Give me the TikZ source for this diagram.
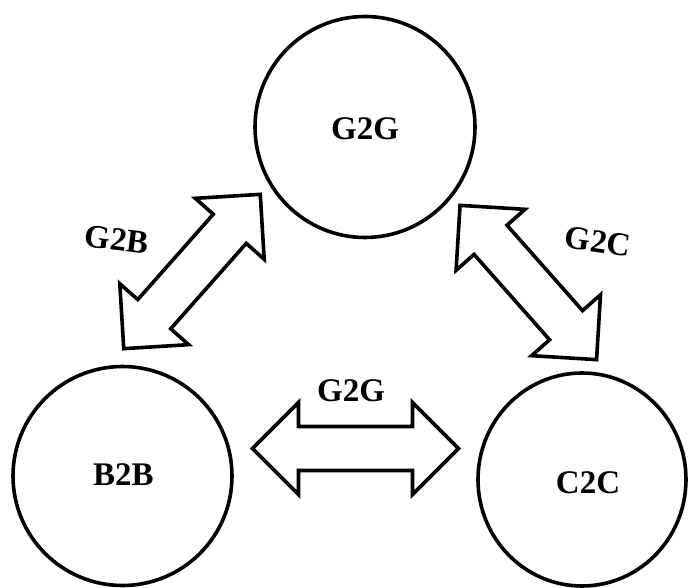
\documentclass[tikz,border=0pt]{standalone}
\usepackage{fontspec}
\setmainfont{Liberation Serif}
\usetikzlibrary{shapes.geometric}
\tikzset{
  ring/.style={draw=black, line width=3.6pt, ellipse, inner sep=0pt},
  lbl/.style={font=\bfseries\fontsize{33}{36}\selectfont, inner sep=0pt},
  arrowline/.style={draw=black, line width=3.6pt, line join=miter, fill=white},
  dblarr/.pic={
    \draw[arrowline] (-103,0) -- (-57,46) -- (-57,22) -- (57,22) -- (57,46)
      -- (103,0) -- (57,-46) -- (57,-22) -- (-57,-22) -- (-57,-46) -- cycle;
  }
}
\begin{document}
\begin{tikzpicture}[x=1pt, y=-1pt]
\useasboundingbox (0,0) rectangle (688,588);
\clip (0,0) rectangle (688,588);
\fill[white] (0,0) rectangle (688,588);
% circles
\node[ring, minimum width=220pt, minimum height=221pt] (g2g) at (365,127) {};
\node[ring, minimum width=219pt, minimum height=219pt] (b2b) at (122.5,476) {};
\node[ring, minimum width=208pt, minimum height=213pt] (c2c) at (582,479.5) {};
% circle texts
\node[lbl] (tg2g) at (365,129) {G2G};
\node[lbl] (tb2b) at (123.3,474.7) {B2B};
\node[lbl] (tc2c) at (588,482.5) {C2C};
% double arrows
\coordinate (aleft) at (192,271.5);
\coordinate (aright) at (528.3,282.5);
\coordinate (abottom) at (355.5,448.5);
\pic[rotate=48.5] at (aleft) {dblarr};
\pic[rotate=-48.5] at (aright) {dblarr};
\pic at (abottom) {dblarr};
% arrow labels
\node[lbl, rotate=-7] (lg2b) at (117,239.5) {G2B};
\node[lbl, rotate=-8] (lg2c) at (598,241.7) {G2C};
\node[lbl] (lg2g) at (351,390.7) {G2G};
\end{tikzpicture}
\end{document}
